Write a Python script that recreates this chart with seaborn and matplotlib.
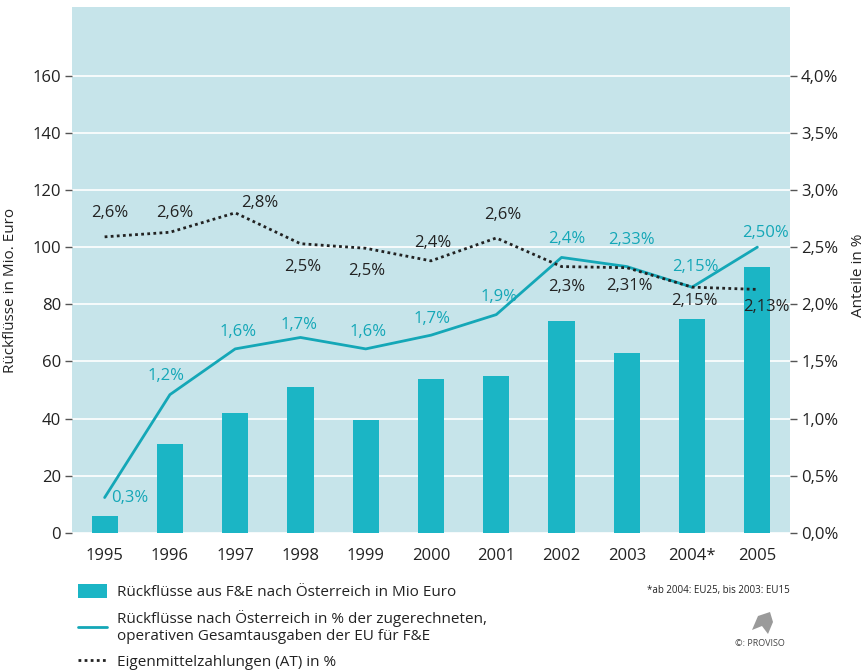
import numpy as np
import pandas as pd
import seaborn as sns
import matplotlib.pyplot as plt
from matplotlib.patches import Patch
from matplotlib.lines import Line2D
from matplotlib.ticker import FuncFormatter

# data #
years = ["1995", "1996", "1997", "1998", "1999", "2000", "2001", "2002", "2003", "2004*", "2005"]
rueckfluesse_mio = [6, 31, 42, 51, 39.5, 54, 55, 74, 63, 75, 93]
rueckfluesse_pct = [0.31, 1.21, 1.61, 1.71, 1.61, 1.73, 1.91, 2.41, 2.33, 2.15, 2.50]
eigenmittel_pct = [2.59, 2.63, 2.80, 2.53, 2.49, 2.38, 2.58, 2.33, 2.32, 2.15, 2.13]
labels_rueck = ["0,3%", "1,2%", "1,6%", "1,7%", "1,6%", "1,7%", "1,9%", "2,4%", "2,33%", "2,15%", "2,50%"]
labels_eigen = ["2,6%", "2,6%", "2,8%", "2,5%", "2,5%", "2,4%", "2,6%", "2,3%", "2,31%", "2,15%", "2,13%"]

df = pd.DataFrame({"year": years, "mio": rueckfluesse_mio,
                   "pct": rueckfluesse_pct, "eigen": eigenmittel_pct})
df["pos"] = np.arange(len(df))

# label offsets in pixels (dx, dy)
off_rueck = [(25, 0), (-4, 19), (3, 17), (-1, 12), (2, 17), (1, 16), (3, 18), (5, 18), (5, 27), (3, 20), (8, 14)]
off_eigen = [(5, 24), (5, 19), (25, 10), (2, -23), (1, -23), (2, 18), (6, 23), (5, -20), (3, -18), (2, -14), (9, -18)]

TEAL_BAR = "#1bb5c5"
TEAL_LINE = "#14a7b7"
BG = "#c6e4ea"
TXT = "#222222"

sns.set_style("white")
plt.rcParams['font.family'] = ['Open Sans', 'DejaVu Sans']

fig = plt.figure(figsize=(8.66, 6.72), dpi=100)
ax = fig.add_axes([72 / 866, 1 - 533 / 672, 718 / 866, 526 / 672])
ax.set_facecolor(BG)

sns.barplot(data=df, x="year", y="mio", color=TEAL_BAR, width=0.4, saturation=1,
            linewidth=0, edgecolor="none", ax=ax, zorder=2)
ax.set_xlim(-0.5, len(years) - 0.5)
ax.set_ylim(0, 184)
ax.set_yticks(range(0, 161, 20))
ax.yaxis.grid(True, color="white", linewidth=1.2)
ax.set_axisbelow(True)
for s in ax.spines.values():
    s.set_visible(False)

ax.set_xticks(df["pos"])
ax.set_xticklabels(years)
ax.set_xticks(np.arange(-0.5, len(years)), minor=True)
ax.tick_params(axis="x", which="major", length=0, pad=11, labelsize=12, labelcolor=TXT)
ax.tick_params(axis="x", which="minor", length=5, width=1, color="#555555", direction="out")
ax.tick_params(axis="y", length=5, width=1, color="#555555", labelsize=12, labelcolor=TXT, pad=3)
ax.set_xlabel("")
ax.set_ylabel("Rückflüsse in Mio. Euro", fontsize=11, color=TXT)
ax.yaxis.set_label_coords(-0.075, (533 - 290) / 526)

ax2 = ax.twinx()
sns.lineplot(data=df, x="pos", y="pct", color=TEAL_LINE, linewidth=2, ax=ax2)
sns.lineplot(data=df, x="pos", y="eigen", color="#222222", linewidth=2, linestyle=(0, (1, 1.2)), ax=ax2)
ax2.set_ylim(0, 4.6)
ax2.set_yticks(np.arange(0, 4.01, 0.5))
ax2.yaxis.set_major_formatter(FuncFormatter(lambda v, p: f"{v:.1f}%".replace(".", ",")))
ax2.tick_params(axis="y", length=5, width=1, color="#555555", labelsize=12, labelcolor=TXT, pad=3)
ax2.set_xlim(-0.5, len(years) - 0.5)
ax2.set_xlabel("")
ax2.set_ylabel("Anteile in %", fontsize=11, color=TXT)
ax2.yaxis.set_label_coords(1 + (851 - 790) / 718, (533 - 275) / 526)
for s in ax2.spines.values():
    s.set_visible(False)

px = 0.72
for i in range(len(years)):
    dx, dy = off_rueck[i]
    ax2.annotate(labels_rueck[i], (df["pos"][i], rueckfluesse_pct[i]), xytext=(dx * px, dy * px),
                 textcoords="offset points", ha="center", va="center", fontsize=12, color=TEAL_LINE)
    dx, dy = off_eigen[i]
    ax2.annotate(labels_eigen[i], (df["pos"][i], eigenmittel_pct[i]), xytext=(dx * px, dy * px),
                 textcoords="offset points", ha="center", va="center", fontsize=12, color=TXT)

# legend #
handles = [Patch(facecolor=TEAL_BAR, edgecolor="none"),
           Line2D([], [], color=TEAL_LINE, linewidth=2),
           Line2D([], [], color="#222222", linewidth=2, linestyle=(0, (1, 1.2)))]
leg_labels = ["Rückflüsse aus F&E nach Österreich in Mio Euro",
              "Rückflüsse nach Österreich in % der zugerechneten,\noperativen Gesamtausgaben der EU für F&E",
              "Eigenmittelzahlungen (AT) in %"]
leg = fig.legend(handles, leg_labels, loc="upper left", bbox_to_anchor=(78 / 866, 1 - 584 / 672),
                 frameon=False, fontsize=11, handlelength=1.9, handleheight=1.0, handletextpad=0.65,
                 labelspacing=0.65, labelcolor=TXT, borderpad=0, borderaxespad=0)

fig.text(790 / 866, 1 - 591 / 672, "*ab 2004: EU25, bis 2003: EU15", ha="right", va="center",
         fontsize=7, color=TXT)
fig.text(760 / 866, 1 - 643 / 672, "©: PROVISO", ha="center", va="center", fontsize=6.5, color="#444444")
logo = plt.Polygon([[752 / 866, 1 - 630 / 672], [758 / 866, 1 - 616 / 672], [770 / 866, 1 - 612 / 672],
                    [773 / 866, 1 - 622 / 672], [768 / 866, 1 - 634 / 672], [762 / 866, 1 - 626 / 672]],
                   closed=True, transform=fig.transFigure, facecolor="#9a9a9a", edgecolor="none")
fig.patches.append(logo)

plt.savefig("out.png", dpi=100)
